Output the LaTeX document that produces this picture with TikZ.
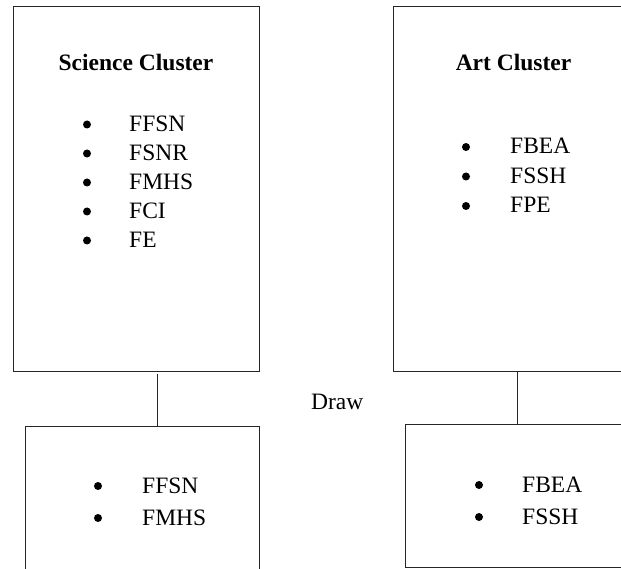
\documentclass[tikz,border=0pt]{standalone}
\usepackage{fontspec}
\setmainfont{Liberation Serif}
\begin{document}
\begin{tikzpicture}[x=1pt,y=-1pt,
  every node/.style={font=\fontsize{23.5}{28}\selectfont},
  box/.style={draw=black!85, line width=0.8pt, rectangle, inner sep=0pt},
  conn/.style={draw=black!85, line width=0.8pt},
  title/.style={font=\fontsize{23.5}{28}\selectfont\bfseries, anchor=base, inner sep=0pt},
  itemtext/.style={anchor=base west, inner sep=0pt},
  bul/.style={circle, fill=black, inner sep=0pt, minimum size=8pt}]
\path[use as bounding box] (0,0) rectangle (621,569);
\clip (0,0) rectangle (621,569);
\fill[white] (0,0) rectangle (621,569);
% boxes
\node[box, minimum width=246pt, minimum height=365.5pt] (sci) at (136,188.75) {};
\node[box, minimum width=257pt, minimum height=365.5pt] (art) at (521.5,188.75) {};
\node[box, minimum width=234pt, minimum height=174pt] (scib) at (142,513) {};
\node[box, minimum width=245pt, minimum height=143.7pt] (artb) at (527.5,495.85) {};
% connectors
\coordinate (c1) at (157,0);
\coordinate (c2) at (517,0);
\draw[conn, shorten <=2.5pt] (sci.south -| c1) -- (scib.north -| c1);
\draw[conn] (art.south -| c2) -- (artb.north -| c2);
% titles
\node[title] (scit) at (136,71) {Science Cluster};
\node[title] (artt) at (513.5,71) {Art Cluster};
% science list
\node[bul] (b1) at (87,124.5) {};
\node[itemtext] (t1) at (129,131.5) {FFSN};
\node[bul] (b2) at (87,153.5) {};
\node[itemtext] (t2) at (129,160.5) {FSNR};
\node[bul] (b3) at (87,182.5) {};
\node[itemtext] (t3) at (129,189.5) {FMHS};
\node[bul] (b4) at (87,211.5) {};
\node[itemtext] (t4) at (129,218.5) {FCI};
\node[bul] (b5) at (87,240.5) {};
\node[itemtext] (t5) at (129,247.5) {FE};
% art list
\node[bul] (a1) at (466,147) {};
\node[itemtext] (u1) at (510,154) {FBEA};
\node[bul] (a2) at (466,176.5) {};
\node[itemtext] (u2) at (510,183.5) {FSSH};
\node[bul] (a3) at (466,206) {};
\node[itemtext] (u3) at (510,213) {FPE};
% draw label
\node[itemtext] (drw) at (311,409) {Draw};
% science draw list
\node[bul] (sb1) at (98,486) {};
\node[itemtext] (st1) at (142,493) {FFSN};
\node[bul] (sb2) at (98,518) {};
\node[itemtext] (st2) at (142,525) {FMHS};
% art draw list
\node[bul] (ab1) at (479,485) {};
\node[itemtext] (at1) at (522,492) {FBEA};
\node[bul] (ab2) at (479,517) {};
\node[itemtext] (at2) at (522,524) {FSSH};
\end{tikzpicture}
\end{document}
